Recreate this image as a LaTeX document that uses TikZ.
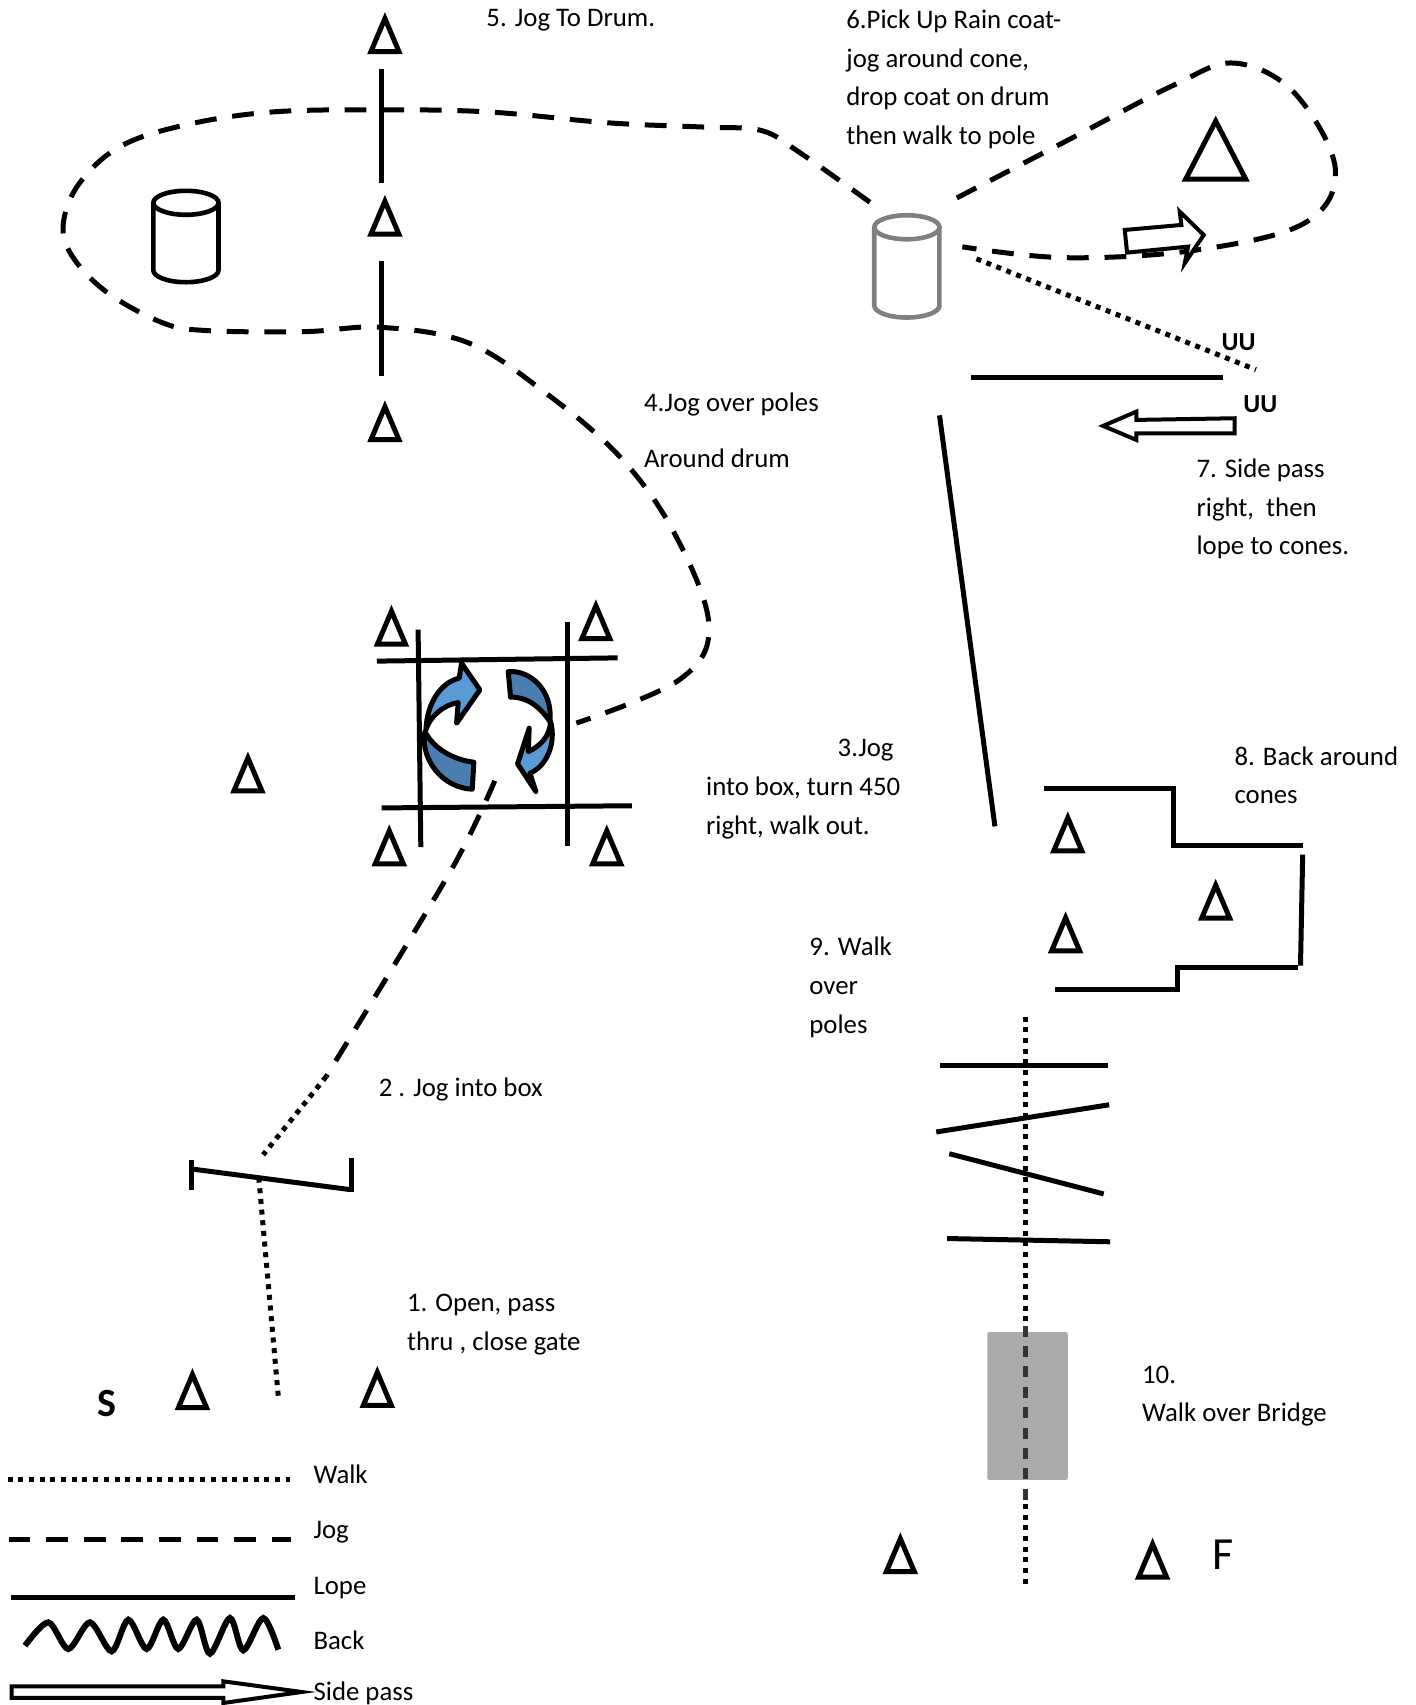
\documentclass[tikz,border=0pt]{standalone}
\usepackage{fontspec}
\setmainfont{Carlito}
\definecolor{drumgrey}{RGB}{128,128,128}
\definecolor{bridgegrey}{RGB}{170,170,170}
\definecolor{turnlight}{RGB}{91,155,213}
\definecolor{turndark}{RGB}{74,126,176}
\usetikzlibrary{positioning, calc, shapes.geometric}

\begin{document}
\begin{tikzpicture}[x=0.5438pt, y=-0.5438pt,
  every node/.style={font=\fontsize{13.4}{19.3}\selectfont},
  label/.style={anchor=west, align=left, inner sep=0pt, yshift=-1.1pt},
  cone/.style={draw, line width=2.5pt, isosceles triangle, isosceles triangle stretches,
    shape border rotate=90, minimum width=14pt, minimum height=16.5pt, inner sep=0pt, yshift=-3.2pt},
  drumline/.style={line width=2.3pt, x radius=16.3pt, y radius=6pt},
  walk/.style={line width=2.5pt, dash pattern=on 2.5pt off 2.85pt},
  jog/.style={line width=2.5pt, dash pattern=on 10.9pt off 7.9pt},
  lope/.style={line width=2.5pt},
  sidepass/.style={draw, fill=white, line width=2pt, miter limit=10},
  turn/.style={draw, line width=2.5pt, line join=round}]
\useasboundingbox (0,0) rectangle (1302,1568);

% cones
\foreach \name/\x/\y in {a/354/33, b/354/201, c/354/390, d/360/578, e/548/573, f/228/713,
    g/358/780, h/558/780, i/177/1280, j/347/1278, k/982/768, l/980/860, m/1118/830,
    n/828/1431, o/1060/1436}
  \node[cone] (cone\name) at (\x,\y) {};
\node[cone, minimum width=30pt, minimum height=29pt, yshift=-2.2pt] (conebig) at (1118,138) {};

% drums
\coordinate (drumleft) at (171,217.5);
\coordinate (drumright) at (834,245);
\draw[drumline] (drumleft) ++(-30,-31) -- ++(0,62) arc[start angle=180, end angle=360] -- ++(0,-62);
\draw[drumline] (drumleft) ++(0,-31) ellipse[];
\draw[drumline, drumgrey] (drumright) ++(-30,-36) -- ++(0,72) arc[start angle=180, end angle=360] -- ++(0,-72);
\draw[drumline, drumgrey] (drumright) ++(0,-36) ellipse[];

% jog
\draw[jog] plot[smooth, tension=0.6] coordinates {(800,186) (735,140) (700,120) (650,117) (560,113)
  (450,103) (352,101) (250,103) (170,115) (110,135) (72,170) (58,208) (68,238) (100,270) (150,297)
  (190,304) (280,305) (350,301) (430,315) (500,360) (570,420) (620,490) (652,575) (625,625) (530,665)};
\draw[jog] plot[smooth, tension=0.6] coordinates {(880,182) (980,130) (1080,78) (1135,58) (1190,85)
  (1228,155) (1200,205) (1100,230) (980,237) (885,227)};
\draw[jog] plot[smooth] coordinates {(455,718) (415,800) (300,990)};

% walk
\draw[walk] (300,990) -- (242,1062);
\draw[walk] (238,1083) -- (256,1285);
\draw[walk] (898,238) -- (1155,340);
\draw[walk] (943,935) -- (943,1219);
\draw[walk] (943,1383) -- (943,1458);

% lope
\draw[lope] (351,63) -- (351,168);
\draw[lope] (351,240) -- (351,346);
\draw[lope] (893,347) -- (1125,347);
\draw[lope] (864,382) -- (915,760);
\draw[lope] (384.5,579) -- (387,779);
\draw[lope] (521.7,572) -- (521.7,778);
\draw[lope] (346.5,608) -- (568,605);
\draw[lope] (351,743) -- (581,741);
\draw[lope] (176,1075) -- (322,1094);
\draw[lope] (176,1067) -- (176,1094);
\draw[lope] (323,1065) -- (323,1096);
\draw[lope] (864,980) -- (1019,980);
\draw[lope] (861,1041) -- (1020,1016);
\draw[lope] (873,1061) -- (1015,1098);
\draw[lope] (871,1139) -- (1021,1142);

% back
\draw[lope] (960,725) -- (1079,725) -- (1079,778) -- (1198,778);
\draw[lope] (1198,786) -- (1196,888);
\draw[lope] (1194,890) -- (1083,890) -- (1083,910) -- (970,910);

% bridge
\fill[bridgegrey, rounded corners=1pt] (908,1225) rectangle (982,1361);
\draw[line width=2.4pt, black!80, dash pattern=on 5.5pt off 4.7pt] (943,1219) -- (943,1383);

% side pass arrows
\begin{scope}[shift={(772.3,165.5)}, x=0.16667pt, y=-0.16667pt]
\draw[sidepass] (855,150) -- (1025,135) -- (1020,95) -- (1092,165) -- (1035,250) -- (1045,200) -- (862,218) -- cycle;
\draw[sidepass] (1185,715) -- (890,720) -- (890,695) -- (790,738) -- (890,780) -- (890,760) -- (1185,760) -- cycle;
\end{scope}

% turn arrows
\begin{scope}[shift={(312.6,533.3)}, x=0.16667pt, y=-0.16667pt]
\draw[turn, fill=turndark] (255,455) .. controls (240,540) and (310,625) .. (397,628) -- (402,547) .. controls (340,540) and (280,505) .. (255,455) -- cycle;
\draw[turn, fill=turnlight] (258,450) .. controls (262,360) and (310,305) .. (358,295) -- (365,250) -- (420,330) -- (350,430) -- (355,368) .. controls (310,375) and (270,410) .. (258,450) -- cycle;
\draw[turn, fill=turndark] (505,275) .. controls (570,270) and (640,330) .. (630,425) .. controls (600,380) and (560,350) .. (512,352) -- cycle;
\draw[turn, fill=turnlight] (632,425) .. controls (650,490) and (620,560) .. (570,580) -- (588,635) -- (533,552) -- (568,445) -- (565,515) .. controls (600,500) and (630,470) .. (632,425) -- cycle;
\end{scope}

% legend
\draw[walk] (7,1361) -- (267,1361);
\draw[jog] (8,1416) -- (268,1416);
\draw[lope] (10,1469) -- (271,1469);
\begin{scope}[shift={(0,1324)}, x=0.16667pt, y=-0.16667pt]
\draw[line width=3pt] plot[smooth] coordinates {(75,618) (145,548) (205,628) (270,548) (335,635)
  (385,540) (440,628) (490,540) (535,628) (590,540) (630,642) (690,535) (730,632) (790,535) (835,630)};
\draw[sidepass] (35,740) -- (670,740) -- (670,725) -- (905,757) -- (670,790) -- (670,775) -- (35,775) -- cycle;
\end{scope}

% labels
\node[label] (step5) at (447,17) {5. Jog To Drum.};
\node[label] (step6) at (778,71) {6.Pick Up Rain coat-\\jog around cone,\\drop coat on drum\\then walk to pole};
\node[label] (step4a) at (592,370) {4.Jog over poles};
\node[label] (step4b) at (592,419) {Around drum};
\node[label] (step7) at (1100,466) {7. Side pass\\right,~ then\\lope to cones.};
\node[label] (step8) at (1135,711) {8. Back around\\cones};
\node[label] (step3a) at (770,688) {3.Jog};
\node[label] (step3b) at (649,741) {into box, turn 450\\right, walk out.};
\node[label] (step9) at (744,906) {9. Walk\\over\\poles};
\node[label] (step2) at (348,1000) {2 . Jog into box};
\node[label] (step1) at (374,1216) {1. Open, pass\\thru , close gate};
\node[label] (step10) at (1050,1282) {10.\\Walk over Bridge};
\node[label] (keywalk) at (288,1354) {Walk};
\node[label] (keyjog) at (288,1407) {Jog};
\node[label] (keylope) at (288,1458) {Lope};
\node[label] (keyback) at (288,1506) {Back};
\node[label] (keyside) at (288,1555) {Side pass};
\node[label, font=\bfseries\fontsize{13}{15}\selectfont] (uutop) at (1123,313) {UU};
\node[label, font=\bfseries\fontsize{13}{15}\selectfont] (uubot) at (1143,370) {UU};
\node[label, font=\bfseries\fontsize{20}{24}\selectfont] (start) at (89,1289) {S};
\node[label, font=\fontsize{23}{27}\selectfont] (finish) at (1115,1428) {F};
\end{tikzpicture}
\end{document}
